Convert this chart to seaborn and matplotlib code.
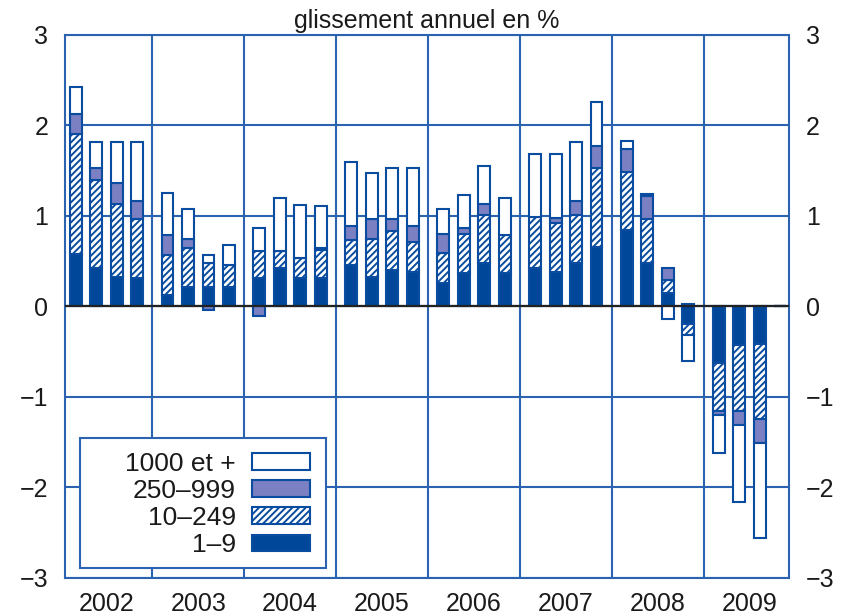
import numpy as np
import pandas as pd
import matplotlib.pyplot as plt
import seaborn as sns
from matplotlib.patches import Rectangle

years = ["2002", "2003", "2004", "2005", "2006", "2007", "2008", "2009"]
quarters = [1, 2, 3, 4]
size_classes = ["1–9", "10–249", "250–999", "1000 et +"]

# contributions au glissement annuel (%), un point par trimestre
cls_1_9 = [0.58, 0.42, 0.33, 0.31, 0.13, 0.22, 0.22, 0.22,
           0.31, 0.42, 0.31, 0.31, 0.46, 0.33, 0.40, 0.38,
           0.26, 0.37, 0.48, 0.37, 0.42, 0.38, 0.48, 0.66,
           0.85, 0.48, 0.15, -0.19, -0.63, -0.43, -0.41, 0.0]
cls_10_249 = [1.33, 0.98, 0.80, 0.66, 0.44, 0.43, 0.26, 0.24,
              0.30, 0.19, 0.23, 0.31, 0.27, 0.42, 0.43, 0.33,
              0.33, 0.43, 0.53, 0.42, 0.57, 0.54, 0.53, 0.87,
              0.64, 0.49, 0.14, -0.12, -0.53, -0.73, -0.83, 0.0]
cls_250_999 = [0.22, 0.13, 0.23, 0.20, 0.22, 0.10, -0.04, 0.0,
               -0.11, 0.0, 0.0, 0.03, 0.16, 0.22, 0.14, 0.18,
               0.21, 0.07, 0.12, 0.0, 0.0, 0.06, 0.16, 0.24,
               0.25, 0.25, 0.14, 0.03, -0.04, -0.15, -0.27, 0.0]
cls_1000 = [0.29, 0.29, 0.46, 0.65, 0.46, 0.33, 0.09, 0.22,
            0.26, 0.59, 0.58, 0.46, 0.71, 0.50, 0.56, 0.64,
            0.28, 0.36, 0.42, 0.41, 0.70, 0.71, 0.65, 0.49,
            0.09, 0.02, -0.14, -0.29, -0.42, -0.85, -1.05, 0.0]

blue = "#0a4c9f"
grid_c = "#2b63b0"
dark = "#00479a"
purple = "#7a80c2"
ink = "#1a1a1a"

sns.set_style("white")
plt.rcParams["font.family"] = ["Liberation Sans", "DejaVu Sans"]
plt.rcParams["hatch.linewidth"] = 1.4
plt.rcParams["text.color"] = ink
plt.rcParams["xtick.color"] = ink
plt.rcParams["ytick.color"] = ink

step = 0.223
bar_w = 0.13
xpos = np.array([i + 0.5 + (q - 2.5) * step for i in range(len(years)) for q in quarters])

fig = plt.figure(figsize=(8.49, 6.15), dpi=100)
ax = fig.add_axes([0.0766, 0.0602, 0.8528, 0.8829])

layers = [
    (cls_1_9, dark, None),
    (cls_10_249, "white", "/////"),
    (cls_250_999, purple, None),
    (cls_1000, "white", None),
]

pos = np.zeros(len(xpos))
neg = np.zeros(len(xpos))
for vals, face, hatch in layers:
    vals = np.asarray(vals, dtype=float)
    bottom = np.where(vals >= 0, pos, neg)
    df = pd.DataFrame({"x": xpos, "v": vals})
    sns.barplot(data=df, x="x", y="v", native_scale=True, orient="x",
                errorbar=None, width=bar_w / step, color=face, saturation=1,
                edgecolor=blue, linewidth=1.5, hatch=hatch, bottom=bottom,
                zorder=2, ax=ax)
    pos += np.where(vals >= 0, vals, 0)
    neg += np.where(vals < 0, vals, 0)

ax.axhline(0, color="#222222", lw=1.6, zorder=3)

ax.set_xlim(0.05, 7.93)
ax.set_ylim(-3, 3)
ax.set_xticks(np.arange(len(years)) + 0.5)
ax.set_xticklabels(years)
ax.set_xticks(np.arange(1, len(years)), minor=True)
ax.set_yticks(range(-3, 4))
ax.set_xlabel("")
ax.set_ylabel("")
ax.grid(False)
ax.xaxis.grid(True, which="minor", color=grid_c, lw=1.5)
ax.yaxis.grid(True, which="major", color=grid_c, lw=1.5)
ax.set_axisbelow(True)
for sp in ax.spines.values():
    sp.set_color(grid_c)
    sp.set_linewidth(1.5)

ax.tick_params(axis="both", which="both", length=0, labelsize=18, labelcolor=ink)
ax.tick_params(axis="y", labelright=True, pad=12)
ax.tick_params(axis="x", pad=10)
ax.set_title("glissement annuel en %", fontsize=18, pad=5, color=ink)

# cadre de la légende
ax.add_patch(Rectangle((0.0207, 0.0184), 0.3398, 0.2394, transform=ax.transAxes,
                       facecolor="white", edgecolor=grid_c, lw=1.5, zorder=4))
handles = list(ax.containers)[::-1]
ax.legend(handles, size_classes[::-1], loc="lower right",
          bbox_to_anchor=(0.338, 0.038), frameon=False, borderpad=0,
          borderaxespad=0, markerfirst=False, handlelength=2.2,
          handleheight=0.6, handletextpad=0.6, labelspacing=0.12,
          fontsize=19, labelcolor=ink)

fig.savefig("out.png", dpi=100)
